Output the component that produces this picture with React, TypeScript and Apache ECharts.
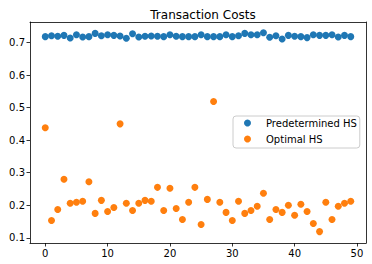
import React, { useEffect, useRef } from "react";
import * as echarts from "echarts";

const xIndex: number[] = Array.from({ length: 50 }, (_, i) => i);

const predeterminedHS: number[] = [
  0.718, 0.721, 0.719, 0.722, 0.714, 0.724, 0.717, 0.718, 0.728, 0.721,
  0.724, 0.722, 0.720, 0.713, 0.727, 0.717, 0.719, 0.720, 0.719, 0.718,
  0.724, 0.719, 0.718, 0.718, 0.718, 0.724, 0.718, 0.718, 0.718, 0.724,
  0.718, 0.721, 0.728, 0.724, 0.724, 0.730, 0.716, 0.721, 0.711, 0.722,
  0.719, 0.718, 0.715, 0.724, 0.722, 0.722, 0.724, 0.717, 0.722, 0.718,
];

const optimalHS: number[] = [
  0.438, 0.153, 0.187, 0.280, 0.206, 0.209, 0.212, 0.272, 0.175, 0.215,
  0.181, 0.193, 0.450, 0.206, 0.184, 0.206, 0.215, 0.212, 0.255, 0.184,
  0.252, 0.190, 0.156, 0.209, 0.255, 0.141, 0.218, 0.519, 0.209, 0.178,
  0.153, 0.212, 0.175, 0.184, 0.197, 0.237, 0.156, 0.187, 0.178, 0.200,
  0.169, 0.203, 0.181, 0.144, 0.119, 0.209, 0.156, 0.197, 0.206, 0.212,
];

const xTicks: number[] = [0, 10, 20, 30, 40, 50];
const yTicks: number[] = [0.1, 0.2, 0.3, 0.4, 0.5, 0.6, 0.7];

const FONT = "DejaVu Sans";
const X_MIN = -2.45;
const X_MAX = 51.45;
const Y_MIN = 0.084;
const Y_MAX = 0.763;

export default function App() {
  const ref = useRef<HTMLDivElement>(null);
  useEffect(() => {
    if (!ref.current) return;
    const chart = echarts.init(ref.current, undefined, { renderer: "svg" });
    const frameLine = { show: true, lineStyle: { color: "#000", width: 0.8 } };
    chart.setOption({
      animation: false,
      title: {
        text: "Transaction Costs",
        left: 198,
        textAlign: "center",
        top: 4,
        textStyle: { fontFamily: FONT, fontSize: 12, fontWeight: "normal", color: "#000" },
      },
      legend: {
        orient: "vertical",
        left: 233,
        top: 116,
        padding: [1, 3, 3, 11],
        borderColor: "#cccccc",
        borderWidth: 1,
        borderRadius: 3,
        backgroundColor: "rgba(255,255,255,0.8)",
        icon: "circle",
        itemWidth: 27,
        itemHeight: 7,
        itemGap: 4,
        textStyle: { fontFamily: FONT, fontSize: 10, color: "#000", lineHeight: 12 },
        data: ["Predetermined HS", "Optimal HS"],
      },
      grid: {
        left: 30,
        right: 6,
        top: 22,
        bottom: 21,
        containLabel: false,
      },
      xAxis: [
        {
          type: "value",
          min: X_MIN,
          max: X_MAX,
          splitLine: { show: false },
          axisLine: { ...frameLine, onZero: false },
          axisTick: { show: true, length: 3.5, customValues: xTicks, lineStyle: { color: "#000", width: 0.8 } },
          axisLabel: {
            customValues: xTicks,
            fontFamily: FONT,
            fontSize: 10,
            color: "#000",
            margin: 5,
          },
        },
        {
          type: "value",
          position: "top",
          min: X_MIN,
          max: X_MAX,
          splitLine: { show: false },
          axisLine: { ...frameLine, onZero: false },
          axisTick: { show: false },
          axisLabel: { show: false },
        },
      ],
      yAxis: [
        {
          type: "value",
          min: Y_MIN,
          max: Y_MAX,
          splitLine: { show: false },
          axisLine: { ...frameLine, onZero: false },
          axisTick: { show: true, length: 3.5, customValues: yTicks, lineStyle: { color: "#000", width: 0.8 } },
          axisLabel: {
            customValues: yTicks,
            formatter: (v: number) => v.toFixed(1),
            fontFamily: FONT,
            fontSize: 10,
            color: "#000",
            margin: 5,
          },
        },
        {
          type: "value",
          position: "right",
          min: Y_MIN,
          max: Y_MAX,
          splitLine: { show: false },
          axisLine: { ...frameLine, onZero: false },
          axisTick: { show: false },
          axisLabel: { show: false },
        },
      ],
      series: [
        {
          name: "Predetermined HS",
          type: "scatter",
          symbolSize: 7,
          itemStyle: { color: "#1f77b4", opacity: 1 },
          data: xIndex.map((x, i) => [x, predeterminedHS[i]]),
        },
        {
          name: "Optimal HS",
          type: "scatter",
          symbolSize: 7,
          itemStyle: { color: "#ff7f0e", opacity: 1 },
          data: xIndex.map((x, i) => [x, optimalHS[i]]),
        },
      ],
    });
    return () => chart.dispose();
  }, []);
  return (
    <div
      ref={ref}
      style={{ position: "absolute", left: 0, top: 0, width: 372, height: 264 }}
    />
  );
}
